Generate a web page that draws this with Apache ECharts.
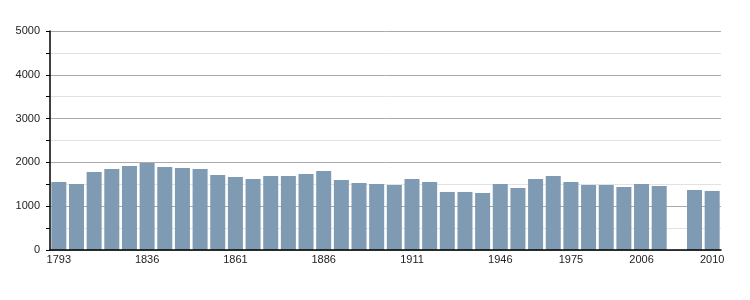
<!DOCTYPE html>
<html>
<head>
<meta charset="utf-8">
<script src="https://cdn.jsdelivr.net/npm/echarts@6/dist/echarts.min.js"></script>
<style>html,body{margin:0;padding:0;background:#fff}#c{width:750px;height:300px}</style>
</head>
<body>
<div id="c"></div>
<script>
const years = ['1793','1800','1806','1821','1831','1836','1841','1846','1851','1856',
  '1861','1866','1872','1876','1881','1886','1891','1896','1901','1906',
  '1911','1921','1926','1931','1936','1946','1954','1962','1968','1975',
  '1982','1990','1999','2006','2007','2008','2009','2010'];
const popValues = [1552,1507,1780,1848,1916,1984,1893,1870,1848,1711,
  1666,1620,1689,1689,1734,1802,1598,1530,1507,1484,
  1620,1552,1325,1325,1302,1507,1416,1620,1689,1552,
  1484,1484,1439,1507,1461,null,1370,1348];
const shownLabels = ['1793','1836','1861','1886','1911','1946','1975','2006','2010'];
const yTicks = [0,1000,2000,3000,4000,5000];
const font = 'Liberation Sans, Arial, sans-serif';

const chart = echarts.init(document.getElementById('c'), null, {renderer:'canvas'});
chart.setOption({
  animation:false,
  grid:{left:50,right:29,top:31,bottom:50,containLabel:false},
  xAxis:[{
    type:'category',
    data:years,
    axisLine:{show:false},
    axisTick:{show:false},
    axisLabel:{
      interval:(i,v)=>shownLabels.includes(v),
      color:'#222',fontFamily:font,fontSize:11,margin:4
    }
  },{
    type:'category',
    data:years,
    position:'bottom',
    z:5,
    axisLine:{show:true,onZero:false,lineStyle:{color:'#000',width:1.5}},
    axisTick:{show:false},
    axisLabel:{show:false},
    splitLine:{show:false}
  }],
  yAxis:[{
    type:'value',min:yTicks[0],max:yTicks[yTicks.length-1],interval:1000,
    axisLine:{show:false},
    axisTick:{show:false},
    splitLine:{show:true,lineStyle:{color:'#aaaaaa',width:1}},
    minorTick:{show:false,splitNumber:2},
    minorSplitLine:{show:true,lineStyle:{color:'#e2e2e2',width:1}},
    axisLabel:{color:'#222',fontFamily:font,fontSize:11,margin:10,formatter:v=>String(v)}
  },{
    type:'value',min:yTicks[0],max:yTicks[yTicks.length-1],interval:1000,
    position:'left',
    z:5,
    axisLine:{show:true,onZero:false,lineStyle:{color:'#000',width:1.5}},
    axisTick:{show:true,length:4,lineStyle:{color:'#000'}},
    minorTick:{show:true,splitNumber:2,length:4,lineStyle:{color:'#000'}},
    splitLine:{show:false},
    minorSplitLine:{show:false},
    axisLabel:{show:false}
  }],
  series:[{
    type:'bar',
    xAxisIndex:0,yAxisIndex:0,
    data:popValues,
    barCategoryGap:'15%',
    itemStyle:{color:'#7f9ab3'}
  }]
});
</script>
</body>
</html>
